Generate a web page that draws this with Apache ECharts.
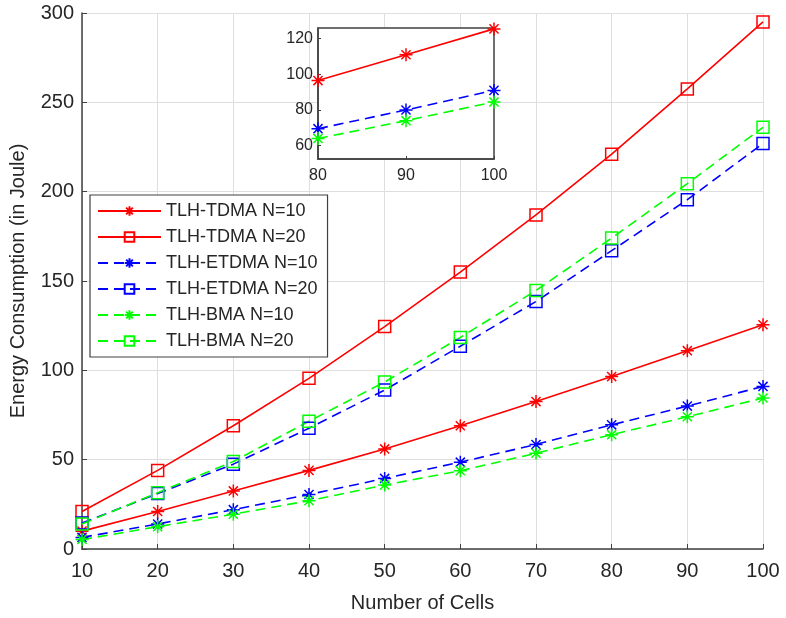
<!DOCTYPE html>
<html>
<head>
<meta charset="utf-8">
<script src="https://cdn.jsdelivr.net/npm/echarts@6/dist/echarts.min.js"></script>
<style>
  html, body { margin: 0; padding: 0; background: #fff; }
  #chart { width: 786px; height: 618px; }
</style>
</head>
<body>
<div id="chart"></div>
<script>
// number of cells
const cells = [10, 20, 30, 40, 50, 60, 70, 80, 90, 100];
// energy consumption (Joule)
const tdma10 = [10, 21, 32.5, 44, 56, 69, 82.5, 96.5, 111, 125.5];
const tdma20 = [21, 44, 69, 95.5, 124.5, 155, 187, 221, 257.5, 295];
const etdma10 = [6.5, 14, 22, 30.5, 39.5, 48.6, 58.5, 69.5, 80, 91];
const etdma20 = [14.5, 31, 47.5, 67.6, 89, 113.5, 138.5, 167, 195.5, 227];
const bma10 = [5.3, 12.5, 19.5, 27, 35.8, 43.8, 53.6, 64, 74, 84.5];
const bma20 = [14, 31.5, 49, 71.5, 93.5, 118.4, 144.7, 174, 204.5, 236];
const insetTicksY = [60, 80, 100, 120];

const FONT = 'Liberation Sans, Arial, sans-serif';
const AXIS = '#404040';
const STAR = 'path://M5,0V10M0,5H10M1.5,1.5L8.5,8.5M1.5,8.5L8.5,1.5';
const DASH = [10, 6];

function pairs(vals, from) {
    return cells.map((c, i) => [c, vals[i]]).filter(p => p[0] >= (from || 0));
}

// one line series
function mk(name, vals, color, star, dashed, idx, from) {
    return {
        name: name,
        type: 'line',
        xAxisIndex: idx,
        yAxisIndex: idx,
        data: pairs(vals, from),
        symbol: star ? STAR : 'rect',
        symbolSize: star ? 13 : 12,
        showAllSymbol: true,
        clip: true,
        lineStyle: { color: color, width: 1.6, type: dashed ? DASH : 'solid' },
        itemStyle: {
            color: star ? color : 'rgba(0,0,0,0)',
            borderColor: color,
            borderWidth: 1.5,
        },
        emphasis: { disabled: true },
        z: idx ? 8 : 3,
    };
}

const myChart = echarts.init(document.getElementById('chart'), null, { renderer: 'canvas' });

const option = {
    animation: false,
    backgroundColor: '#fff',
    textStyle: { fontFamily: FONT },
    grid: [
        { left: 80, right: 23, top: 13, bottom: 68 },
        // inset
        { left: 318, top: 28, width: 176, height: 131, show: true,
            backgroundColor: '#fff', borderColor: AXIS, borderWidth: 1.5, z: 5 },
    ],
    legend: {
        orient: 'vertical',
        left: 90,
        top: 195,
        padding: [7, 10, 7, 7],
        itemWidth: 63,
        itemHeight: 12,
        itemGap: 8,
        backgroundColor: '#fff',
        borderColor: AXIS,
        borderWidth: 1.2,
        textStyle: { fontSize: 18, color: '#262626', fontFamily: FONT },
        data: ['TLH-TDMA N=10', 'TLH-TDMA N=20', 'TLH-ETDMA N=10',
            'TLH-ETDMA N=20', 'TLH-BMA N=10', 'TLH-BMA N=20'],
        z: 10,
    },
    xAxis: [
        {
            type: 'value',
            gridIndex: 0,
            min: 10,
            max: 100,
            interval: 10,
            name: 'Number of Cells',
            nameLocation: 'middle',
            nameGap: 44,
            nameTextStyle: { fontSize: 20, color: '#262626' },
            axisLine: { lineStyle: { color: AXIS, width: 1.5 } },
            axisTick: { inside: true, length: 5, lineStyle: { color: AXIS } },
            axisLabel: { fontSize: 20, color: '#262626', margin: 12 },
            splitLine: { show: true, lineStyle: { color: '#dedede' } },
        },
        {
            type: 'value',
            gridIndex: 1,
            min: 80,
            max: 100,
            interval: 10,
            axisLine: { lineStyle: { color: AXIS, width: 1.5 } },
            axisTick: { inside: true, length: 3, lineStyle: { color: AXIS } },
            axisLabel: { fontSize: 16, color: '#262626', margin: 9 },
            splitLine: { show: false },
            z: 6,
        },
    ],
    yAxis: [
        {
            type: 'value',
            gridIndex: 0,
            min: 0,
            max: 300,
            interval: 50,
            name: 'Energy Consumption (in Joule)',
            nameLocation: 'middle',
            nameGap: 54,
            nameTextStyle: { fontSize: 20, color: '#262626' },
            axisLine: { show: true, lineStyle: { color: AXIS, width: 1.5 } },
            axisTick: { show: true, inside: true, length: 5, lineStyle: { color: AXIS } },
            axisLabel: { fontSize: 20, color: '#262626', margin: 8 },
            splitLine: { show: true, lineStyle: { color: '#dedede' } },
        },
        {
            type: 'value',
            gridIndex: 1,
            min: 52.5,
            max: 126,
            axisLine: { show: true, lineStyle: { color: AXIS, width: 1.5 } },
            axisTick: { show: true, inside: true, length: 3, customValues: insetTicksY, lineStyle: { color: AXIS } },
            axisLabel: { fontSize: 16, color: '#262626', margin: 5, customValues: insetTicksY },
            splitLine: { show: false },
            z: 6,
        },
    ],
    series: [
        mk('TLH-TDMA N=10', tdma10, '#ff0000', true, false, 0),
        mk('TLH-TDMA N=20', tdma20, '#ff0000', false, false, 0),
        mk('TLH-ETDMA N=10', etdma10, '#0000ff', true, true, 0),
        mk('TLH-ETDMA N=20', etdma20, '#0000ff', false, true, 0),
        mk('TLH-BMA N=10', bma10, '#00ff00', true, true, 0),
        mk('TLH-BMA N=20', bma20, '#00ff00', false, true, 0),
        // zoomed view of the N=10 curves
        mk('TLH-TDMA N=10', tdma10, '#ff0000', true, false, 1, 80),
        mk('TLH-ETDMA N=10', etdma10, '#0000ff', true, true, 1, 80),
        mk('TLH-BMA N=10', bma10, '#00ff00', true, true, 1, 80),
    ],
};

myChart.setOption(option);
</script>
</body>
</html>
